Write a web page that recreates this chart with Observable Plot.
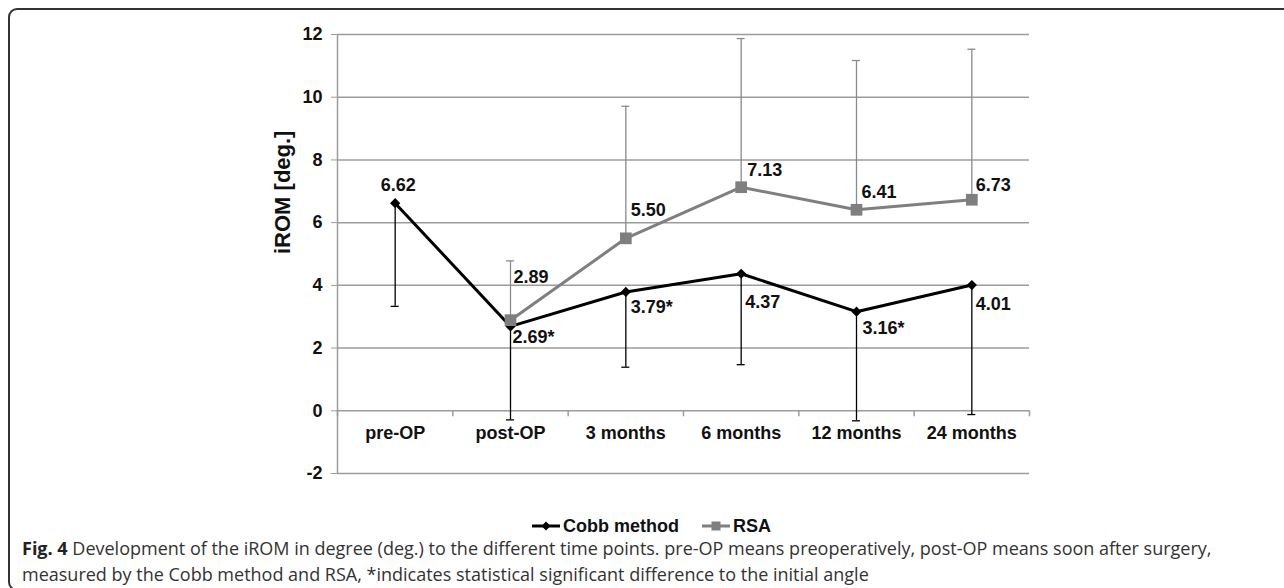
<!DOCTYPE html>
<html>
<head>
<meta charset="utf-8">
<script src="https://cdn.jsdelivr.net/npm/d3@7"></script>
<script src="https://cdn.jsdelivr.net/npm/@observablehq/plot@0.6"></script>
<style>
  body { margin: 0; background: #fff; }
  #wrap { position: relative; width: 1284px; height: 588px; overflow: hidden; font-family: "Liberation Sans", Arial, sans-serif; }
  #frame { position: absolute; left: 8px; top: 8px; width: 1300px; height: 583px; border: 2px solid #333; border-right: none; border-radius: 9px 0 0 9px; box-sizing: border-box; }
  #chart { position: absolute; left: 0; top: 0; }
  #legend { position: absolute; top: 514px; left: 531px; display: flex; gap: 22px; font-size: 18px; font-weight: bold; color: #111; line-height: 24px; }
  #legend .item { display: flex; align-items: center; gap: 2px; }
  #caption { position: absolute; left: 22px; top: 535px; font-family: "Open Sans", sans-serif; font-size: 18px; line-height: 26px; color: #333; white-space: nowrap; }
  #caption b { color: #222; }
</style>
</head>
<body>
<div id="wrap">
  <div id="frame"></div>
  <div id="chart"></div>
  <div id="legend"></div>
  <div id="caption"></div>
</div>
<script>
// ---- data ----
const timepoints = ["pre-OP", "post-OP", "3 months", "6 months", "12 months", "24 months"];
const cobbMean  = [6.62, 2.69, 3.79, 4.37, 3.16, 4.01];
const cobbLower = [3.33, -0.29, 1.39, 1.47, -0.32, -0.12];
const cobbStars = ["", "*", "*", "", "*", ""];
const rsaMean   = [null, 2.89, 5.50, 7.13, 6.41, 6.73];
const rsaUpper  = [null, 4.78, 9.71, 11.87, 11.17, 11.53];
const yTicks    = [-2, 0, 2, 4, 6, 8, 10, 12];
const seriesNames = ["Cobb method", "RSA"];
const yLabel = "iROM [deg.]";
const captionBold = "Fig. 4";
const captionLine1 = " Development of the iROM in degree (deg.) to the different time points. pre-OP means preoperatively, post-OP means soon after surgery,";
const captionLine2 = "measured by the Cobb method and RSA, *indicates statistical significant difference to the initial angle";

// ---- label placement (layout only: [dx, dy, anchor]) ----
const cobbLabelOffsets = [[3, -18, "middle"], [2, 11, "start"], [5, 15, "start"], [4, 28, "start"], [6, 17, "start"], [4, 19, "start"]];
const rsaLabelOffsets  = [null, [3, -43, "start"], [5, -28, "start"], [6, -17, "start"], [5, -18, "start"], [4, -15, "start"]];

// ---- styles ----
const COBB = "#000000";
const RSA = "#7f7f7f";
const GRID = "#9c9c9c";
const TEXT = "#111111";

const rows = timepoints.map((t, i) => ({
  t, pos: i + 0.5,
  cobb: cobbMean[i], cobbLo: cobbLower[i],
  cobbLabel: cobbMean[i].toFixed(2) + cobbStars[i],
  rsa: rsaMean[i], rsaHi: rsaUpper[i],
  rsaLabel: rsaMean[i] == null ? "" : rsaMean[i].toFixed(2)
}));
const rsaRows = rows.filter(d => d.rsa != null);

const labelMarks = [];
rows.forEach((d, i) => {
  const [dx, dy, anchor] = cobbLabelOffsets[i];
  labelMarks.push(Plot.text([d], {x: "pos", y: "cobb", text: "cobbLabel", dx, dy, textAnchor: anchor, fontSize: 18, fontWeight: "bold", fill: TEXT}));
  if (d.rsa != null) {
    const [rdx, rdy, ranchor] = rsaLabelOffsets[i];
    labelMarks.push(Plot.text([d], {x: "pos", y: "rsa", text: "rsaLabel", dx: rdx, dy: rdy, textAnchor: ranchor, fontSize: 18, fontWeight: "bold", fill: TEXT}));
  }
});

const chart = Plot.plot({
  width: 1284,
  height: 500,
  marginLeft: 337,
  marginRight: 255,
  marginTop: 34,
  marginBottom: 27,
  x: {domain: [0, timepoints.length], axis: null},
  y: {domain: [d3.min(yTicks), d3.max(yTicks)], axis: null},
  style: {fontFamily: "'Liberation Sans', Arial, sans-serif", background: "transparent", overflow: "visible"},
  marks: [
    Plot.ruleY(yTicks, {stroke: GRID, strokeWidth: 1.5}),
    Plot.ruleX([0], {y1: d3.min(yTicks), y2: d3.max(yTicks), stroke: GRID, strokeWidth: 1.5}),
    Plot.axisY({ticks: yTicks, tickSize: 6, tickPadding: 9, stroke: GRID, fill: TEXT, fontSize: 18, fontWeight: "bold", label: null, tickFormat: d => String(d)}),
    Plot.ruleX(d3.range(timepoints.length + 1), {y1: 0, y2: 0, insetBottom: -6, stroke: GRID, strokeWidth: 1.5}),
    Plot.text(rows, {x: "pos", y: 0, text: "t", dy: 22, fontSize: 18, fontWeight: "bold", fill: TEXT}),
    Plot.text([yLabel], {frameAnchor: "left", rotate: -90, dx: -55, fontSize: 22, fontWeight: "bold", fill: TEXT}),
    // Cobb error bars (lower)
    Plot.ruleX(rows, {x: "pos", y1: "cobb", y2: "cobbLo", stroke: COBB, strokeWidth: 1.3}),
    Plot.ruleY(rows, {y: "cobbLo", x1: "pos", x2: "pos", insetLeft: -4, insetRight: -4, stroke: COBB, strokeWidth: 1.3}),
    Plot.line(rows, {x: "pos", y: "cobb", stroke: COBB, strokeWidth: 3}),
    Plot.dot(rows, {x: "pos", y: "cobb", symbol: "diamond2", r: 4.6, fill: COBB, stroke: null}),
    // RSA error bars (upper)
    Plot.ruleX(rsaRows, {x: "pos", y1: "rsa", y2: "rsaHi", stroke: "#8a8a8a", strokeWidth: 1.3}),
    Plot.ruleY(rsaRows, {y: "rsaHi", x1: "pos", x2: "pos", insetLeft: -4, insetRight: -4, stroke: "#8a8a8a", strokeWidth: 1.3}),
    Plot.line(rsaRows, {x: "pos", y: "rsa", stroke: RSA, strokeWidth: 3}),
    Plot.dot(rsaRows, {x: "pos", y: "rsa", symbol: "square", r: 6.6, fill: RSA, stroke: null}),
    ...labelMarks
  ]
});
document.getElementById("chart").appendChild(chart);

// ---- legend ----
const legend = document.getElementById("legend");
const swatch = (color, kind) => {
  const marker = kind === "diamond"
    ? `<path d="M15 1.5 L19.5 6 L15 10.5 L10.5 6 Z" fill="${color}"/>`
    : `<rect x="10.5" y="1.5" width="9" height="9" fill="${color}"/>`;
  return `<svg width="30" height="12" viewBox="0 0 30 12"><line x1="1" y1="6" x2="29" y2="6" stroke="${color}" stroke-width="3"/>${marker}</svg>`;
};
legend.innerHTML =
  `<span class="item">${swatch(COBB, "diamond")}<span>${seriesNames[0]}</span></span>` +
  `<span class="item">${swatch(RSA, "square")}<span>${seriesNames[1]}</span></span>`;

// ---- caption ----
const cap = document.getElementById("caption");
cap.innerHTML = `<b>${captionBold}</b>${captionLine1}<br>${captionLine2}`;
</script>
</body>
</html>
